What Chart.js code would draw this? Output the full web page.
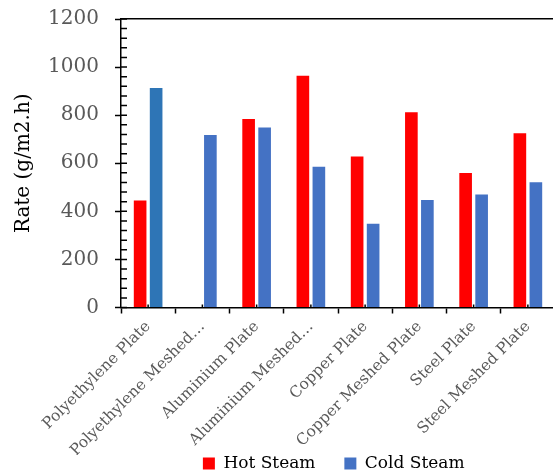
<!DOCTYPE html>
<html>
<head>
<meta charset="utf-8">
<script src="https://cdn.jsdelivr.net/npm/chart.js@4.4.1/dist/chart.umd.min.js"></script>
<style>
    html, body { margin: 0; padding: 0; background: #fff; overflow: hidden; }
    #wrap { position: relative; width: 560px; height: 482px; }
</style>
</head>
<body>
<div id="wrap"><canvas id="myChart"></canvas></div>
<script>
// DATA
var categories = ['Polyethylene Plate', 'Polyethylene Meshed…', 'Aluminium Plate', 'Aluminium Meshed…',
                  'Copper Plate', 'Copper Meshed Plate', 'Steel Plate', 'Steel Meshed Plate'];
var hotSteam = [445, 0, 784, 964, 628, 812, 559, 725];
var coldSteam = [913, 717, 749, 585, 348, 447, 470, 521];
var yTicks = [0, 200, 400, 600, 800, 1000, 1200];
var yMinorTicks = [];
for (var v = 0; v <= 1200; v += 40) yMinorTicks.push(v);

var hotColor = "#FF0000";
var coldColors = coldSteam.map(function (d, i) { return i === 0 ? "#2E75B6" : "#4472C4"; });

var serif = "'DejaVu Serif', serif";

// small inside tick marks (minor y ticks, x category centers)
const minorTicks = {
    id: 'minorTicks',
    afterDatasetsDraw(chart) {
        var ctx = chart.ctx;
        var ys = chart.scales.y, xs = chart.scales.x;
        var area = chart.chartArea;
        ctx.save();
        ctx.strokeStyle = '#000';
        ctx.lineWidth = 1.5;
        ctx.beginPath();
        yMinorTicks.forEach(function (val) {
            var py = ys.getPixelForValue(val);
            ctx.moveTo(area.left, py);
            ctx.lineTo(area.left + 6, py);
        });
        categories.forEach(function (c, i) {
            var px = xs.getPixelForValue(i);
            ctx.moveTo(px, area.bottom);
            ctx.lineTo(px, area.bottom - 3);
        });
        ctx.stroke();
        ctx.restore();
    }
};

// legend spacing between the two entries
function legendLabels(chart) {
    var items = Chart.defaults.plugins.legend.labels.generateLabels(chart);
    items.forEach(function (it, i) {
        it.fillStyle = i === 0 ? hotColor : "#4472C4";
        it.strokeStyle = it.fillStyle;
        if (i < items.length - 1) it.text = it.text + '\u2003\u2002\u2009';
        else it.text = it.text + '\u2002';
    });
    return items;
}

const mainChart = new Chart("myChart", {
    type: "bar",
    data: {
        labels: categories,
        datasets: [{
            label: "Hot Steam",
            data: hotSteam,
            backgroundColor: hotColor
        }, {
            label: "Cold Steam",
            data: coldSteam,
            backgroundColor: coldColors
        }]
    },
    options: {
        responsive: true,
        maintainAspectRatio: false,
        animation: false,
        categoryPercentage: 0.59,
        barPercentage: 0.79,
        layout: { padding: { top: 0, right: 5, left: 0, bottom: 0 } },
        plugins: {
            tooltip: { enabled: false },
            legend: {
                position: 'bottom',
                fullSize: false,
                labels: {
                    boxWidth: 12,
                    boxHeight: 12,
                    padding: 0,
                    color: '#000',
                    font: { family: serif, size: 17 },
                    generateLabels: legendLabels
                }
            }
        },
        scales: {
            x: {
                offset: true,
                grid: { drawOnChartArea: false, offset: true, tickLength: 6, tickColor: '#000', tickWidth: 1.5 },
                border: { color: '#000', width: 1.5 },
                ticks: {
                    color: '#595959',
                    font: { family: serif, size: 15.5 },
                    minRotation: 45,
                    maxRotation: 45,
                    autoSkip: false,
                    padding: 4
                },
                afterFit: function (scale) { scale.height = 147.5; }
            },
            xTop: {
                type: 'category',
                position: 'top',
                grid: { display: false, drawTicks: false },
                border: { color: '#000', width: 1.5 },
                ticks: { display: false },
                afterFit: function (scale) { scale.height = 0; }
            },
            y: {
                min: 0,
                max: 1200,
                afterBuildTicks: function (scale) {
                    scale.ticks = yTicks.map(function (t) { return { value: t }; });
                },
                grid: { drawOnChartArea: false, tickLength: 6, tickColor: '#000', tickWidth: 1.5 },
                border: { color: '#000', width: 1.5 },
                ticks: {
                    color: '#595959',
                    font: { family: serif, size: 20 },
                    padding: 16,
                    callback: function (val) { return String(val); }
                },
                title: {
                    display: true,
                    text: 'Rate (g/m2.h)',
                    color: '#000',
                    font: { family: serif, size: 20 },
                    padding: { top: 12, bottom: 12 }
                },
                afterFit: function (scale) {
                    scale.width = 121;
                    scale.paddingTop = 19;
                }
            }
        }
    },
    plugins: [minorTicks]
});
</script>
</body>
</html>
